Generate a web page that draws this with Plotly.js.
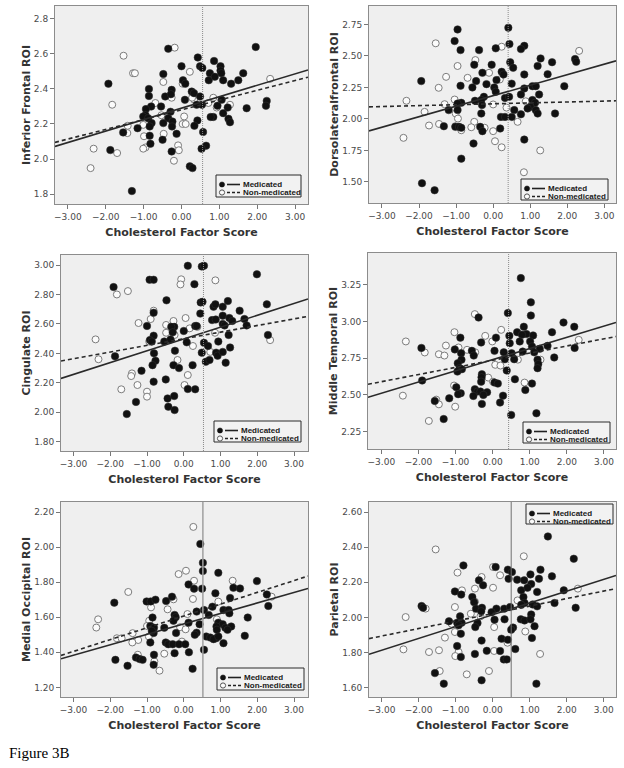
<!DOCTYPE html>
<html><head><meta charset="utf-8">
<script src="https://cdn.plot.ly/plotly-3.0.1.min.js"></script>
<style>html,body{margin:0;padding:0;background:#fff}#chart{width:624px;height:768px}</style>
</head><body><div id="chart"></div>
<script>
// ---------------- DATA ----------------
const xTitle = "Cholesterol Factor Score";
const seriesNames = ["Medicated", "Non-medicated"];
const figureLabel = "Figure 3B";
const yTitles = ["Inferior Frontal ROI", "Dorsolateralfrontal ROI", "Cingulate ROI", "Middle Temporal ROI", "Medial Occipital ROI", "Parietal ROI"];
const xTickVals = [-3, -2, -1, 0, 1, 2, 3];
const p1YTicks = [1.8, 2.0, 2.2, 2.4, 2.6, 2.8];
const p2YTicks = [1.50, 1.75, 2.00, 2.25, 2.50, 2.75];
const p3YTicks = [1.80, 2.00, 2.20, 2.40, 2.60, 2.80, 3.00];
const p4YTicks = [2.25, 2.50, 2.75, 3.00, 3.25];
const p5YTicks = [1.20, 1.40, 1.60, 1.80, 2.00, 2.20];
const p6YTicks = [1.60, 1.80, 2.00, 2.20, 2.40, 2.60];

// [x, y] pairs
const p1Med = [[1.96,2.64],[-0.35,2.63],[0.43,2.58],[0.0,2.53],[0.49,2.53],[0.55,2.52],[0.86,2.56],[1.03,2.53],[1.03,2.505],[1.05,2.49],[-0.48,2.485],[0.75,2.49],[0.72,2.45],[0.88,2.47],[1.63,2.49],[1.50,2.45],[1.10,2.45],[1.31,2.43],[0.04,2.45],[0.10,2.43],[-1.93,2.43],[-0.86,2.40],[-0.26,2.395],[-0.43,2.357],[-0.86,2.36],[-0.28,2.37],[0.27,2.385],[0.33,2.376],[0.09,2.338],[0.49,2.357],[0.54,2.31],[0.40,2.31],[1.06,2.338],[2.25,2.332],[2.23,2.304],[1.72,2.29],[1.22,2.294],[0.95,2.304],[1.10,2.262],[0.84,2.24],[0.77,2.24],[1.24,2.23],[1.28,2.21],[-0.80,2.30],[-0.94,2.285],[-0.54,2.30],[-0.29,2.27],[-0.95,2.25],[-1.01,2.243],[-0.35,2.233],[-0.88,2.233],[-0.24,2.214],[-0.48,2.205],[-0.79,2.205],[-0.84,2.186],[-0.25,2.186],[0.42,2.22],[0.34,2.19],[-1.16,2.176],[-1.54,2.152],[0.57,2.154],[-0.84,2.133],[-0.13,2.144],[-0.50,2.11],[-0.82,2.087],[0.65,2.076],[0.53,2.059],[-1.88,2.051],[-0.26,2.043],[0.22,1.958],[0.29,1.948],[-1.31,1.817]];
const p1Non = [[-0.18,2.636],[-1.53,2.59],[-1.28,2.49],[-1.23,2.49],[0.22,2.498],[-0.48,2.44],[0.03,2.43],[2.34,2.458],[-0.69,2.32],[-1.83,2.31],[0.34,2.338],[0.28,2.35],[0.84,2.35],[0.71,2.32],[0.93,2.294],[1.28,2.31],[-0.26,2.35],[-0.53,2.25],[0.07,2.243],[0.03,2.20],[0.11,2.20],[-1.42,2.19],[-1.43,2.148],[-1.01,2.195],[-0.47,2.144],[-0.99,2.13],[-0.95,2.066],[-1.01,2.059],[-0.09,2.078],[-0.07,2.05],[-2.32,2.059],[-1.70,2.034],[-0.20,1.99],[-2.40,1.948]];

const p2Med = [[-0.96,2.71],[0.41,2.724],[-1.04,2.618],[0.44,2.594],[0.84,2.58],[0.75,2.554],[0.07,2.56],[-0.88,2.546],[-0.38,2.546],[1.28,2.48],[1.59,2.45],[2.21,2.475],[2.24,2.453],[1.20,2.42],[-0.51,2.43],[-0.04,2.43],[0.46,2.45],[0.54,2.406],[0.23,2.374],[0.28,2.353],[-0.29,2.366],[0.84,2.353],[1.47,2.355],[-0.46,2.30],[0.09,2.308],[-1.94,2.30],[-0.88,2.263],[-0.18,2.276],[0.03,2.25],[-0.56,2.25],[1.06,2.26],[1.15,2.26],[0.84,2.242],[0.50,2.28],[0.07,2.215],[1.92,2.26],[1.24,2.194],[0.75,2.194],[0.32,2.167],[0.43,2.175],[-0.25,2.175],[1.06,2.15],[-0.86,2.128],[-0.49,2.144],[-0.32,2.15],[-0.96,2.122],[1.13,2.128],[1.01,2.096],[0.93,2.083],[1.15,2.07],[-0.30,2.11],[-0.96,2.07],[-1.20,2.07],[0.21,2.016],[0.32,2.016],[0.50,2.016],[0.57,2.07],[0.75,2.037],[1.20,2.043],[1.67,2.043],[-0.32,2.043],[-1.33,1.942],[-1.02,1.937],[-0.92,1.937],[-0.86,1.93],[-0.35,1.937],[-0.29,1.903],[0.19,1.924],[-0.53,1.805],[0.84,1.836],[-0.86,1.685],[-1.92,1.49],[-1.58,1.434]];
const p2Non = [[-1.55,2.60],[0.23,2.573],[2.32,2.54],[-0.48,2.467],[-0.96,2.42],[-0.11,2.366],[-1.27,2.334],[-0.69,2.326],[0.18,2.313],[-1.47,2.247],[-1.04,2.154],[-2.34,2.144],[-1.31,2.117],[0.0,2.115],[0.36,2.09],[0.88,2.14],[-1.85,2.056],[-1.01,2.043],[-0.95,2.003],[-1.02,1.942],[-1.46,1.96],[-1.73,1.948],[-0.86,1.91],[-0.51,1.977],[-0.59,1.934],[-0.23,1.93],[0.0,1.903],[0.66,1.977],[-2.42,1.85],[0.05,1.823],[0.23,1.775],[1.27,1.75],[0.83,1.577]];

const p3Med = [[0.11,2.995],[0.49,2.99],[0.55,2.995],[1.99,2.937],[-0.93,2.90],[-0.82,2.90],[0.29,2.87],[-1.91,2.85],[-0.47,2.76],[2.26,2.733],[0.46,2.746],[0.51,2.75],[1.20,2.755],[0.81,2.717],[0.86,2.733],[1.06,2.717],[1.52,2.69],[0.45,2.67],[-0.82,2.676],[-1.0,2.586],[0.77,2.626],[0.87,2.63],[1.06,2.656],[1.24,2.64],[1.32,2.62],[1.65,2.633],[1.71,2.59],[1.06,2.60],[1.11,2.59],[-0.26,2.58],[-0.34,2.58],[0.0,2.552],[-0.30,2.543],[0.31,2.586],[0.35,2.586],[1.22,2.525],[2.29,2.525],[-0.82,2.52],[-0.92,2.49],[-0.87,2.48],[-0.53,2.48],[-0.36,2.495],[0.08,2.475],[0.55,2.472],[0.66,2.45],[0.94,2.48],[-0.81,2.40],[-1.87,2.38],[0.49,2.405],[0.60,2.343],[0.70,2.355],[0.88,2.405],[0.92,2.384],[1.06,2.41],[1.26,2.44],[1.14,2.337],[-0.24,2.418],[-0.77,2.35],[-0.85,2.32],[-0.28,2.32],[0.24,2.32],[-0.13,2.30],[-1.15,2.282],[-0.49,2.223],[-0.82,2.208],[0.11,2.158],[0.31,2.156],[-1.30,2.07],[-0.44,2.094],[-0.26,2.11],[-0.42,2.038],[-0.25,2.015],[-1.55,1.988]];
const p3Non = [[-0.07,2.903],[-0.09,2.868],[0.86,2.896],[-1.82,2.80],[-1.52,2.823],[-0.82,2.69],[-0.90,2.633],[-1.23,2.606],[0.05,2.64],[-0.28,2.62],[-0.48,2.593],[0.37,2.58],[0.16,2.57],[-0.48,2.54],[-2.40,2.495],[-0.25,2.525],[2.35,2.49],[0.25,2.45],[-0.94,2.48],[0.72,2.41],[0.85,2.54],[-2.32,2.36],[-0.17,2.355],[-1.41,2.264],[-1.43,2.246],[0.11,2.253],[-1.26,2.185],[0.02,2.185],[-1.70,2.156],[-1.0,2.14],[-1.0,2.106]];

const p4Med = [[0.76,3.295],[1.03,3.13],[1.03,3.04],[-0.38,3.027],[0.41,3.057],[1.91,2.993],[2.20,2.964],[0.84,2.964],[0.66,2.927],[0.91,2.914],[0.79,2.91],[1.09,2.905],[0.45,2.902],[0.09,2.89],[-0.87,2.89],[1.60,2.927],[1.01,2.864],[0.73,2.864],[0.46,2.852],[-0.31,2.857],[1.06,2.83],[-1.92,2.82],[1.48,2.834],[2.21,2.82],[1.27,2.814],[-1.02,2.81],[-0.56,2.80],[0.05,2.80],[0.81,2.795],[0.30,2.79],[0.51,2.784],[-0.85,2.784],[-0.51,2.768],[1.12,2.79],[1.66,2.755],[1.21,2.74],[0.58,2.743],[0.33,2.743],[-0.84,2.74],[1.23,2.71],[1.21,2.682],[0.38,2.666],[-0.94,2.716],[-0.89,2.682],[-0.83,2.675],[-0.95,2.659],[-0.29,2.641],[-1.90,2.598],[-0.30,2.62],[0.60,2.607],[-0.31,2.59],[0.05,2.584],[0.14,2.577],[0.88,2.534],[1.06,2.577],[-0.98,2.552],[-0.48,2.539],[-0.41,2.523],[-0.33,2.523],[-0.15,2.518],[-0.86,2.511],[-0.93,2.505],[-0.52,2.493],[-0.25,2.50],[0.28,2.495],[-1.17,2.477],[-1.56,2.459],[-0.29,2.439],[0.20,2.448],[0.50,2.364],[1.18,2.375],[-1.32,2.336]];
const p4Non = [[-0.48,3.05],[0.23,2.943],[-0.20,2.902],[-1.03,2.927],[-0.01,2.864],[-2.34,2.864],[-1.83,2.789],[-1.26,2.836],[-1.45,2.777],[-1.30,2.768],[-0.92,2.823],[-0.69,2.807],[-0.47,2.79],[0.68,2.74],[1.29,2.74],[0.07,2.705],[0.21,2.70],[2.32,2.875],[-0.12,2.618],[0.01,2.59],[0.86,2.584],[-1.04,2.564],[-2.42,2.495],[-1.52,2.468],[-1.45,2.436],[-1.01,2.42],[-1.72,2.323]];

const p5Med = [[0.45,2.018],[0.52,1.91],[0.52,1.863],[0.94,1.853],[0.13,1.787],[0.28,1.763],[0.50,1.763],[1.35,1.768],[1.53,1.764],[1.99,1.806],[2.26,1.73],[2.30,1.664],[0.86,1.736],[1.26,1.71],[-1.01,1.69],[-0.90,1.69],[-0.77,1.70],[-0.32,1.717],[-0.48,1.692],[-1.89,1.683],[0.78,1.66],[1.08,1.641],[1.22,1.641],[1.24,1.622],[0.55,1.641],[0.35,1.632],[0.68,1.613],[-0.25,1.613],[-0.22,1.60],[-0.85,1.598],[1.74,1.598],[-0.28,1.58],[0.13,1.569],[0.94,1.569],[1.06,1.56],[1.13,1.54],[1.29,1.547],[1.19,1.528],[0.89,1.547],[0.90,1.528],[0.43,1.56],[-0.91,1.55],[-0.81,1.54],[-0.53,1.54],[0.35,1.512],[0.30,1.50],[-0.82,1.51],[-0.87,1.522],[-0.21,1.51],[0.61,1.49],[0.72,1.484],[0.88,1.48],[0.81,1.475],[1.66,1.494],[0.94,1.49],[-0.91,1.456],[-0.49,1.456],[-0.42,1.446],[-0.30,1.446],[-0.13,1.446],[0.04,1.446],[1.08,1.452],[-0.25,1.395],[0.14,1.40],[0.55,1.414],[-1.30,1.37],[-1.20,1.361],[-1.12,1.357],[-1.86,1.357],[-0.81,1.386],[-1.53,1.323],[-0.82,1.329],[0.24,1.306]];
const p5Non = [[0.26,2.115],[0.06,1.865],[-0.14,1.846],[0.28,1.808],[1.33,1.808],[-1.51,1.744],[0.25,1.704],[-0.28,1.702],[0.94,1.689],[2.39,1.717],[-0.44,1.645],[-0.89,1.656],[0.10,1.618],[-0.94,1.58],[-2.33,1.588],[-2.38,1.541],[-0.10,1.543],[0.05,1.531],[0.90,1.588],[-1.0,1.55],[-1.39,1.509],[-1.82,1.48],[-1.69,1.48],[-1.24,1.47],[-1.40,1.456],[-0.95,1.49],[-0.44,1.448],[-0.05,1.461],[-1.25,1.386],[-0.53,1.392],[-0.80,1.348],[-0.66,1.295]];

const p6Med = [[1.49,2.461],[2.19,2.334],[-0.79,2.296],[0.08,2.287],[0.41,2.272],[0.52,2.258],[1.29,2.272],[1.02,2.245],[1.60,2.234],[0.43,2.22],[0.66,2.215],[0.85,2.211],[1.25,2.22],[-0.37,2.211],[-0.26,2.183],[1.04,2.19],[0.77,2.154],[0.94,2.169],[1.92,2.154],[-1.02,2.148],[-0.85,2.13],[1.20,2.145],[-0.55,2.116],[0.83,2.116],[0.86,2.082],[0.77,2.072],[1.08,2.074],[1.20,2.063],[1.67,2.082],[2.24,2.055],[-1.92,2.065],[-1.88,2.055],[-0.50,2.086],[-0.45,2.05],[-0.29,2.055],[0.10,2.05],[0.31,2.05],[0.47,2.059],[-0.31,2.035],[-0.03,2.03],[1.04,2.017],[-0.88,2.006],[0.32,1.989],[0.05,1.987],[0.76,1.989],[0.86,1.983],[1.02,1.989],[-1.18,1.978],[-0.96,1.97],[-0.84,1.97],[-0.92,1.955],[-0.41,1.968],[-0.47,1.945],[0.55,1.942],[0.50,1.93],[1.13,1.95],[-0.86,1.907],[1.06,1.883],[-0.96,1.837],[-0.30,1.868],[0.24,1.879],[0.41,1.873],[-0.16,1.81],[0.20,1.809],[0.61,1.82],[-0.86,1.775],[-0.48,1.792],[0.30,1.761],[0.38,1.761],[-1.56,1.683],[-0.30,1.642],[-1.32,1.623],[1.18,1.623]];
const p6Non = [[-1.54,2.387],[0.84,2.348],[-0.95,2.255],[0.01,2.287],[0.20,2.24],[-0.30,2.23],[-0.48,2.164],[-0.83,2.154],[0.01,2.169],[2.30,2.164],[0.67,2.097],[-0.48,2.09],[-1.02,2.059],[-1.81,2.05],[-2.35,2.002],[-0.59,2.021],[-0.33,2.006],[0.04,1.945],[-1.11,1.964],[-1.02,1.917],[0.88,1.92],[-1.29,1.885],[0.40,1.856],[-2.41,1.818],[-1.45,1.813],[-1.72,1.803],[-0.92,1.803],[-1.01,1.78],[0.04,1.809],[1.28,1.792],[-1.43,1.695],[-0.10,1.695],[-0.70,1.676]];

// fit lines: [intercept, slope]
const fitMed = [[2.2905,0.0654],[2.184,0.0834],[2.498,0.0802],[2.740,0.0761],[1.562,0.0597],[2.015,0.0673]];
const fitNon = [[2.281,0.0557],[2.120,0.0072],[2.499,0.0451],[2.736,0.0486],[1.607,0.0673],[2.022,0.0427]];
// vertical reference (cut-off) on x
const cutoffs = [0.557, 0.405, 0.536, 0.43, 0.52, 0.50];

// ---------------- LAYOUT / STYLE ----------------
const W = 624, H = 768;
const panels = [
  {med:p1Med, non:p1Non, yt:p1YTicks, yfmt:'.1f', box:[55,308,6,204],  xr:[-3.34,3.34], yr:[1.743,2.874], leg:[216,301,175,197], vl:{dash:'1px,1px',color:'#8a8a8a',width:1}},
  {med:p2Med, non:p2Non, yt:p2YTicks, yfmt:'.2f', box:[369,616,6,203], xr:[-3.35,3.315], yr:[1.333,2.896], leg:[521,608,179,200], vl:{dash:'1px,1px',color:'#8a8a8a',width:1}},
  {med:p3Med, non:p3Non, yt:p3YTicks, yfmt:'.2f', box:[61,308,255,451], xr:[-3.34,3.38], yr:[1.737,3.068], leg:[214,301,421,442], vl:{dash:'1px,1px',color:'#8a8a8a',width:1}},
  {med:p4Med, non:p4Non, yt:p4YTicks, yfmt:'.2f', box:[368,616,253,449], xr:[-3.36,3.325], yr:[2.132,3.466], leg:[523,610,422,443], vl:{dash:'1px,1px',color:'#8a8a8a',width:1}},
  {med:p5Med, non:p5Non, yt:p5YTicks, yfmt:'.2f', box:[61,308,502,697], xr:[-3.34,3.38], yr:[1.145,2.257], leg:[217,304,668,690], vl:{dash:'solid',color:'#a0a0a0',width:1.5}},
  {med:p6Med, non:p6Non, yt:p6YTicks, yfmt:'.2f', box:[369,616,502,697], xr:[-3.34,3.33], yr:[1.547,2.657], leg:[526,613,504,524], vl:{dash:'solid',color:'#707070',width:1}}
];

const px = v => v / W, py = v => 1 - v / H;
const tickFont = {family:'DejaVu Sans, sans-serif', size:9, color:'#4a4a4a'};
const titleFont = {family:'DejaVu Sans, sans-serif', size:11, color:'#333', weight:'bold'};
const legFont = {family:'Liberation Sans, Arial, sans-serif', size:8, color:'#1a1a1a', weight:'bold'};

const traces = [], shapes = [], annotations = [];
const layout = {
  width:W, height:H, margin:{l:0,r:0,t:0,b:0},
  paper_bgcolor:'#fff', plot_bgcolor:'#efefef', showlegend:false,
  shapes, annotations
};

panels.forEach((p, i) => {
  const n = i + 1, sfx = n === 1 ? '' : String(n);
  const xa = 'x' + sfx, ya = 'y' + sfx;
  const [l, r, t, b] = p.box;
  layout['xaxis' + sfx] = {
    domain:[px(l), px(r)], anchor:ya, range:p.xr, tickvals:xTickVals, tickformat:'.2f',
    ticks:'outside', ticklen:4, tickcolor:'#777', tickfont:tickFont,
    showline:true, mirror:true, linecolor:'#8c8c8c', linewidth:1, showgrid:false, zeroline:false,
    automargin:false,
    title:{text:xTitle, font:titleFont, standoff:7}
  };
  layout['yaxis' + sfx] = {
    domain:[py(b), py(t)], anchor:xa, range:p.yr, tickvals:p.yt, tickformat:p.yfmt,
    ticks:'outside', ticklen:4, tickcolor:'#777', tickfont:tickFont,
    showline:true, mirror:true, linecolor:'#8c8c8c', linewidth:1, showgrid:false, zeroline:false,
    automargin:false,
    title:{text:yTitles[i], font:titleFont, standoff:1}
  };
  // points
  traces.push({type:'scatter', mode:'markers', xaxis:xa, yaxis:ya, name:seriesNames[1],
    x:p.non.map(d=>d[0]), y:p.non.map(d=>d[1]),
    marker:{symbol:'circle', size:7, color:'#fbfbfb', line:{color:'#7c7c7c', width:1}}});
  traces.push({type:'scatter', mode:'markers', xaxis:xa, yaxis:ya, name:seriesNames[0],
    x:p.med.map(d=>d[0]), y:p.med.map(d=>d[1]),
    marker:{symbol:'circle', size:7.5, color:'#111', line:{color:'#333', width:0.5}}});
  // fit lines
  const fm = fitMed[i], fn = fitNon[i];
  traces.push({type:'scatter', mode:'lines', xaxis:xa, yaxis:ya, name:seriesNames[0] + ' fit',
    x:p.xr, y:p.xr.map(x=>fm[0] + fm[1]*x), line:{color:'#2a2a2a', width:1.6}});
  traces.push({type:'scatter', mode:'lines', xaxis:xa, yaxis:ya, name:seriesNames[1] + ' fit',
    x:p.xr, y:p.xr.map(x=>fn[0] + fn[1]*x), line:{color:'#2a2a2a', width:1.6, dash:'4px,3px'}});
  // cut-off line
  shapes.push({type:'line', xref:xa, yref:ya + ' domain', x0:cutoffs[i], x1:cutoffs[i], y0:0, y1:1,
    line:{color:p.vl.color, width:p.vl.width, dash:p.vl.dash}, layer:'above'});
  // legend box (drawn by hand, SPSS style)
  const [lx0, lx1, ly0, ly1] = p.leg;
  shapes.push({type:'rect', xref:'paper', yref:'paper', x0:px(lx0), x1:px(lx1), y0:py(ly1), y1:py(ly0),
    line:{color:'#2a2a2a', width:1}, fillcolor:'#f2f2f2', layer:'above'});
  const rows = [ly0 + 9.5, ly0 + 17.5];
  rows.forEach((ry, k) => {
    const cx = lx0 + 6, rr = 2.6;
    shapes.push({type:'circle', xref:'paper', yref:'paper', x0:px(cx-rr), x1:px(cx+rr), y0:py(ry+rr), y1:py(ry-rr),
      line:{color:k===0?'#111':'#555', width:k===0?0.5:1}, fillcolor:k===0?'#111':'#fbfbfb', layer:'above'});
    shapes.push({type:'line', xref:'paper', yref:'paper', x0:px(lx0+11), x1:px(lx0+24), y0:py(ry), y1:py(ry),
      line:{color:'#222', width:1.6, dash:k===0?'solid':'3px,2px'}, layer:'above'});
    annotations.push({xref:'paper', yref:'paper', x:px(lx0+25), y:py(ry), xanchor:'left', yanchor:'middle',
      text:seriesNames[k], showarrow:false, font:legFont});
  });
});

annotations.push({xref:'paper', yref:'paper', x:px(7), y:py(753), xanchor:'left', yanchor:'middle',
  text:figureLabel, showarrow:false, font:{family:'Liberation Serif, Times New Roman, serif', size:15, color:'#000'}});

Plotly.newPlot('chart', traces, layout, {staticPlot:true, displayModeBar:false});
</script></body></html>
